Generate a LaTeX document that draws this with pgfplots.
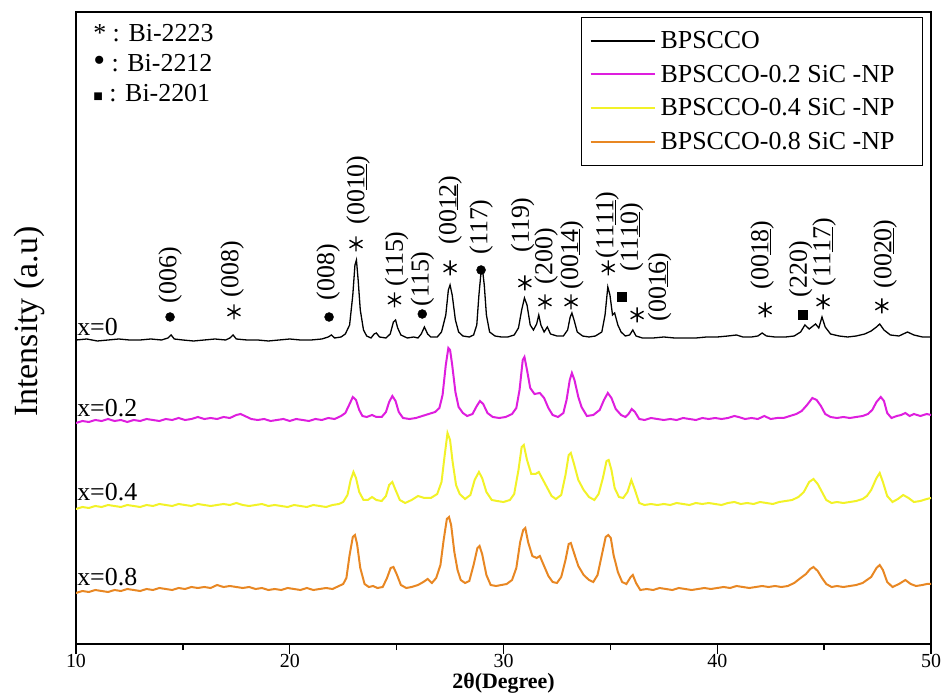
\documentclass[border=0pt]{standalone}
\usepackage{fontspec}
\setmainfont{Liberation Serif}
\usepackage{pgfplots}
\pgfplotsset{compat=1.18}
\definecolor{cmag}{RGB}{222,30,222}
\definecolor{cyel}{RGB}{242,242,40}
\definecolor{cora}{RGB}{232,135,35}
\newcommand\lbl{\fontsize{26}{26}\selectfont}
\begin{document}
\begin{tikzpicture}
\useasboundingbox (0,0) rectangle (946bp,694bp);
\begin{axis}[
  at={(76bp,50bp)}, anchor=south west,
  scale only axis, width=855bp, height=632bp,
  xmin=10, xmax=50, ymin=6, ymax=638,
  xtick={10,20,30,40,50}, minor xtick={15,25,35,45},
  xtick pos=bottom, tick align=outside,
  major tick length=10bp, minor tick length=6bp,
  ytick=\empty,
  axis line style={line width=1.6bp},
  every tick/.style={black, line width=1.4bp},
  tick label style={font=\fontsize{20}{20}\selectfont},
  xticklabel style={inner sep=0pt, yshift=0bp},
  /pgf/number format/assume math mode=true,
  xlabel={2θ(Degree)},
  xlabel style={font=\fontsize{22}{22}\selectfont\bfseries, inner sep=0pt, at={(axis description cs:0.5,0)}, anchor=center, yshift=-39bp},
  ylabel={Intensity (a.u)},
  ylabel style={font=\fontsize{34}{34}\selectfont, at={(axis description cs:-0.054,0.51)}, anchor=center},
  legend style={at={(0.9906,0.992)}, anchor=north east, draw=black, line width=0.8bp, font=\lbl, inner xsep=8bp, inner ysep=12bp, row sep=11bp, cells={anchor=west}},
  legend image code/.code={\draw[#1, line width=2bp] (0bp,0bp) -- (64bp,0bp);},
]
\addplot[black, line width=1.3bp] coordinates {
(10.0,310) (10.5,311) (11.0,309) (11.5,310) (12.0,311) (12.5,310) (13.0,310) (13.5,311) (14.0,310) (14.3,312) (14.45,315) (14.6,311) (15.0,310) (15.5,309) (16.0,310) (16.5,311) (17.0,310) (17.2,312) (17.35,315) (17.5,311) (18.0,310) (18.5,310) (19.0,309) (19.5,310) (20.0,311) (20.5,310) (21.0,310) (21.5,311) (21.8,313) (21.95,315) (22.1,312) (22.4,313) (22.6,316) (22.8,325) (22.95,355) (23.05,385) (23.12,390) (23.2,370) (23.3,340) (23.45,320) (23.6,314) (23.8,312) (23.95,316) (24.05,317) (24.2,313) (24.5,312) (24.7,316) (24.85,328) (24.95,330) (25.05,322) (25.2,315) (25.5,312) (25.8,313) (26.0,312) (26.15,316) (26.3,323) (26.45,316) (26.6,313) (26.9,313) (27.1,318) (27.3,335) (27.42,360) (27.5,365) (27.6,355) (27.75,330) (27.9,318) (28.1,314) (28.4,313) (28.6,315) (28.75,325) (28.85,355) (28.95,378) (29.02,380) (29.1,365) (29.2,335) (29.35,318) (29.6,314) (29.9,313) (30.2,313) (30.5,315) (30.7,322) (30.85,340) (30.98,352) (31.1,345) (31.25,325) (31.4,320) (31.55,326) (31.65,335) (31.75,325) (31.9,318) (32.05,323) (32.2,316) (32.5,314) (32.8,314) (33.0,320) (33.12,333) (33.2,337) (33.3,330) (33.45,318) (33.7,314) (34.0,313) (34.3,314) (34.6,318) (34.75,335) (34.88,363) (34.98,355) (35.1,335) (35.2,337) (35.35,325) (35.5,318) (35.7,314) (35.9,315) (36.05,320) (36.2,314) (36.5,312) (37.0,312) (37.5,313) (38.0,312) (38.5,312) (39.0,312) (39.5,313) (40.0,313) (40.5,314) (40.9,315) (41.2,313) (41.6,313) (41.9,314) (42.1,317) (42.3,314) (42.7,313) (43.2,313) (43.6,314) (43.9,318) (44.1,325) (44.3,321) (44.6,326) (44.75,322) (44.9,333) (45.05,323) (45.3,316) (45.7,314) (46.1,313) (46.5,314) (46.9,316) (47.2,319) (47.45,323) (47.6,326) (47.8,320) (48.1,315) (48.5,314) (48.9,318) (49.2,315) (49.6,313) (50.0,313)
};
\addlegendentry{\hspace*{3bp}\makebox[252bp][l]{BPSCCO}}
\addplot[cmag, line width=2bp] coordinates {
(10.0,227) (10.3,229) (10.6,228) (10.9,230) (11.2,229) (11.5,231) (11.8,229) (12.1,230) (12.4,228) (12.7,230) (13.0,229) (13.3,231) (13.6,230) (13.9,229) (14.2,231) (14.5,230) (14.8,232) (15.1,230) (15.4,231) (15.7,233) (16.0,231) (16.3,232) (16.6,231) (16.9,233) (17.2,232) (17.5,235) (17.7,236) (17.9,234) (18.2,231) (18.5,230) (18.8,231) (19.1,229) (19.4,230) (19.7,231) (20.0,229) (20.3,231) (20.6,230) (20.9,229) (21.2,231) (21.5,230) (21.8,232) (22.1,231) (22.4,234) (22.6,237) (22.8,246) (22.95,253) (23.1,250) (23.25,240) (23.4,234) (23.6,233) (23.85,235) (24.05,233) (24.3,233) (24.5,238) (24.65,248) (24.8,254) (24.95,249) (25.1,238) (25.3,232) (25.6,231) (25.9,232) (26.2,234) (26.5,236) (26.8,238) (27.0,242) (27.15,255) (27.3,285) (27.42,302) (27.5,300) (27.6,285) (27.75,258) (27.9,243) (28.1,237) (28.3,234) (28.55,236) (28.75,244) (28.9,249) (29.05,246) (29.25,237) (29.5,233) (29.8,232) (30.1,233) (30.4,236) (30.6,242) (30.75,260) (30.9,290) (30.98,293) (31.1,280) (31.25,262) (31.45,256) (31.7,257) (31.9,252) (32.1,242) (32.3,235) (32.55,233) (32.8,237) (32.95,250) (33.1,270) (33.2,277) (33.32,270) (33.5,253) (33.65,243) (33.9,234) (34.2,235) (34.5,240) (34.7,250) (34.88,257) (35.05,252) (35.25,241) (35.5,235) (35.7,233) (35.85,236) (36.0,241) (36.15,238) (36.35,231) (36.6,230) (36.9,232) (37.2,231) (37.5,230) (37.8,231) (38.1,230) (38.4,232) (38.7,231) (39.0,230) (39.3,232) (39.6,231) (39.9,232) (40.2,231) (40.5,232) (40.8,234) (41.0,233) (41.3,231) (41.6,232) (41.9,231) (42.2,234) (42.5,231) (42.8,232) (43.1,232) (43.4,234) (43.7,236) (43.95,239) (44.2,245) (44.45,252) (44.65,250) (44.85,244) (45.05,236) (45.3,233) (45.6,232) (45.9,233) (46.2,232) (46.5,233) (46.8,234) (47.05,236) (47.25,240) (47.45,248) (47.65,253) (47.8,249) (47.95,237) (48.15,232) (48.4,234) (48.6,235) (48.8,237) (49.0,234) (49.2,236) (49.5,234) (49.8,236) (50.0,235)
};
\addlegendentry{\hspace*{3bp}BPSCCO-0.2 SiC -NP}
\addplot[cyel, line width=2bp] coordinates {
(10.0,141) (10.3,143) (10.6,142) (10.9,144) (11.2,143) (11.5,145) (11.8,144) (12.1,143) (12.4,145) (12.7,144) (13.0,143) (13.3,145) (13.6,144) (13.9,146) (14.2,145) (14.5,144) (14.8,146) (15.1,145) (15.4,144) (15.7,146) (16.0,145) (16.3,144) (16.6,145) (16.9,146) (17.2,145) (17.5,147) (17.8,145) (18.1,144) (18.4,145) (18.7,146) (19.0,144) (19.3,145) (19.6,144) (19.9,143) (20.2,145) (20.5,144) (20.8,143) (21.1,145) (21.4,144) (21.7,143) (22.0,145) (22.3,146) (22.5,148) (22.7,155) (22.85,170) (22.98,178) (23.1,172) (23.25,158) (23.45,150) (23.65,150) (23.85,153) (24.05,150) (24.3,149) (24.5,154) (24.65,165) (24.8,168) (24.95,160) (25.15,150) (25.4,147) (25.7,150) (26.0,154) (26.3,152) (26.6,152) (26.9,156) (27.1,168) (27.25,195) (27.38,217) (27.5,210) (27.62,188) (27.78,165) (27.95,156) (28.2,151) (28.45,155) (28.65,170) (28.85,178) (29.0,172) (29.2,158) (29.45,150) (29.7,149) (30.0,148) (30.3,150) (30.5,156) (30.7,180) (30.85,203) (30.95,205) (31.1,190) (31.3,176) (31.5,176) (31.65,178) (31.85,170) (32.05,162) (32.25,154) (32.45,151) (32.7,155) (32.9,175) (33.05,195) (33.15,197) (33.3,186) (33.5,170) (33.75,160) (34.0,153) (34.25,150) (34.45,156) (34.65,172) (34.82,189) (34.92,190) (35.05,180) (35.2,162) (35.4,153) (35.6,152) (35.8,158) (35.98,170) (36.15,160) (36.35,147) (36.6,145) (36.9,146) (37.2,145) (37.5,146) (37.8,145) (38.1,147) (38.4,146) (38.7,145) (39.0,147) (39.3,146) (39.6,147) (39.9,146) (40.2,145) (40.5,147) (40.8,148) (41.1,146) (41.4,147) (41.7,146) (42.0,148) (42.3,147) (42.6,146) (42.9,148) (43.2,149) (43.5,150) (43.8,153) (44.05,158) (44.3,168) (44.5,171) (44.7,166) (44.9,158) (45.1,150) (45.35,147) (45.6,148) (45.9,147) (46.2,148) (46.5,149) (46.8,151) (47.0,154) (47.2,160) (47.45,172) (47.6,177) (47.75,168) (47.95,154) (48.2,148) (48.45,151) (48.7,155) (48.95,152) (49.2,148) (49.5,149) (49.8,151) (50.0,152)
};
\addlegendentry{\hspace*{3bp}BPSCCO-0.4 SiC -NP}
\addplot[cora, line width=2bp] coordinates {
(10.0,57) (10.3,59) (10.6,58) (10.9,60) (11.2,59) (11.5,58) (11.8,60) (12.1,59) (12.4,61) (12.7,60) (13.0,59) (13.3,61) (13.6,60) (13.9,62) (14.2,61) (14.5,60) (14.8,62) (15.1,61) (15.4,63) (15.7,62) (16.0,63) (16.3,62) (16.6,65) (16.9,63) (17.2,64) (17.5,63) (17.8,62) (18.1,63) (18.4,61) (18.7,62) (19.0,60) (19.3,61) (19.6,60) (19.9,62) (20.2,61) (20.5,60) (20.8,62) (21.1,60) (21.4,61) (21.7,62) (22.0,61) (22.3,64) (22.5,66) (22.65,72) (22.8,95) (22.95,113) (23.05,115) (23.15,106) (23.3,82) (23.5,66) (23.7,63) (23.9,64) (24.1,62) (24.35,63) (24.55,72) (24.72,82) (24.85,83) (25.0,76) (25.2,65) (25.45,62) (25.7,63) (26.0,65) (26.25,68) (26.45,71) (26.65,67) (26.85,72) (27.05,85) (27.2,110) (27.35,131) (27.45,133) (27.55,125) (27.7,98) (27.85,80) (28.0,70) (28.2,67) (28.4,69) (28.6,85) (28.78,102) (28.88,104) (29.0,96) (29.2,75) (29.4,65) (29.65,64) (29.9,65) (30.15,66) (30.4,70) (30.6,82) (30.78,108) (30.92,120) (31.02,122) (31.15,108) (31.35,94) (31.55,92) (31.7,94) (31.9,84) (32.1,74) (32.3,68) (32.5,67) (32.7,73) (32.9,90) (33.05,106) (33.15,107) (33.3,97) (33.5,84) (33.75,75) (34.0,70) (34.2,68) (34.4,75) (34.6,95) (34.78,113) (34.9,115) (35.02,112) (35.15,95) (35.35,78) (35.55,68) (35.75,66) (35.95,73) (36.05,75) (36.2,67) (36.4,60) (36.7,61) (37.0,60) (37.3,62) (37.6,61) (37.9,60) (38.2,62) (38.5,61) (38.8,60) (39.1,61) (39.4,62) (39.7,61) (40.0,62) (40.3,63) (40.6,62) (40.9,64) (41.2,63) (41.5,62) (41.8,63) (42.1,64) (42.4,63) (42.7,64) (43.0,63) (43.3,64) (43.6,67) (43.9,72) (44.15,76) (44.35,81) (44.5,83) (44.7,79) (44.9,72) (45.1,66) (45.35,63) (45.6,64) (45.9,63) (46.2,64) (46.5,65) (46.8,67) (47.0,70) (47.2,73) (47.45,82) (47.6,85) (47.75,80) (47.95,68) (48.2,63) (48.5,66) (48.8,70) (49.05,66) (49.3,64) (49.6,65) (49.8,66) (50.0,66)
};
\addlegendentry{\hspace*{3bp}BPSCCO-0.8 SiC -NP}
% phase markers
\addplot[only marks, mark=asterisk, mark size=7.5bp, mark options={black, line width=1.4bp}, forget plot] coordinates {(17.39,338) (23.1,406) (24.9,350) (27.5,382) (31.0,367) (31.94,348) (33.16,348) (34.9,382) (36.25,335) (42.24,340) (44.95,348) (47.7,344)};
\addplot[only marks, mark=*, mark size=4.5bp, mark options={black, fill=black}, forget plot] coordinates {(14.4,333) (21.84,333) (26.2,336) (28.95,380)};
\addplot[only marks, mark=square*, mark size=4.5bp, mark options={black, fill=black}, forget plot] coordinates {(35.55,353) (44.0,335)};
% hkl labels
\node[rotate=90, font=\lbl] at (axis cs:14.4,375) {(006)};
\node[rotate=90, font=\lbl] at (axis cs:17.3,381) {(008)};
\node[rotate=90, font=\lbl] at (axis cs:21.8,378) {(008)};
\node[rotate=90, font=\lbl] at (axis cs:23.2,460) {(00\underline{10})};
\node[rotate=90, font=\lbl] at (axis cs:25.0,391) {(115)};
\node[rotate=90, font=\lbl] at (axis cs:26.2,371) {(115)};
\node[rotate=90, font=\lbl] at (axis cs:27.5,440) {(00\underline{12})};
\node[rotate=90, font=\lbl] at (axis cs:28.95,423) {(117)};
\node[rotate=90, font=\lbl] at (axis cs:30.9,425) {(119)};
\node[rotate=90, font=\lbl] at (axis cs:32.0,394) {(200)};
\node[rotate=90, font=\lbl] at (axis cs:33.2,395) {(00\underline{14})};
\node[rotate=90, font=\lbl] at (axis cs:34.85,425) {(11\underline{11})};
\node[rotate=90, font=\lbl] at (axis cs:36.0,413) {(11\underline{10})};
\node[rotate=90, font=\lbl] at (axis cs:37.3,363) {(00\underline{16})};
\node[rotate=90, font=\lbl] at (axis cs:42.1,395) {(00\underline{18})};
\node[rotate=90, font=\lbl] at (axis cs:43.9,381) {(220)};
\node[rotate=90, font=\lbl] at (axis cs:45.0,398) {(11\underline{17})};
\node[rotate=90, font=\lbl] at (axis cs:47.85,396) {(00\underline{20})};
% curve labels
\node[anchor=west, font=\lbl, inner sep=0pt] at (axis cs:10.05,323) {x=0};
\node[anchor=west, font=\lbl, inner sep=0pt] at (axis cs:10.05,242) {x=0.2};
\node[anchor=west, font=\lbl, inner sep=0pt] at (axis cs:10.05,158) {x=0.4};
\node[anchor=west, font=\lbl, inner sep=0pt] at (axis cs:10.05,73) {x=0.8};
% phase key
\node[anchor=west, font=\lbl, inner sep=0pt] at (axis cs:10.8,617) {* : Bi-2223};
\node[anchor=west, font=\lbl, inner sep=0pt] at (axis cs:10.8,587) {{\fontsize{34}{26}\selectfont •} : Bi-2212};
\node[anchor=west, font=\lbl, inner sep=0pt] at (axis cs:10.8,557) {{\fontsize{16}{16}\selectfont ■} : Bi-2201};
\end{axis}
\end{tikzpicture}
\end{document}
